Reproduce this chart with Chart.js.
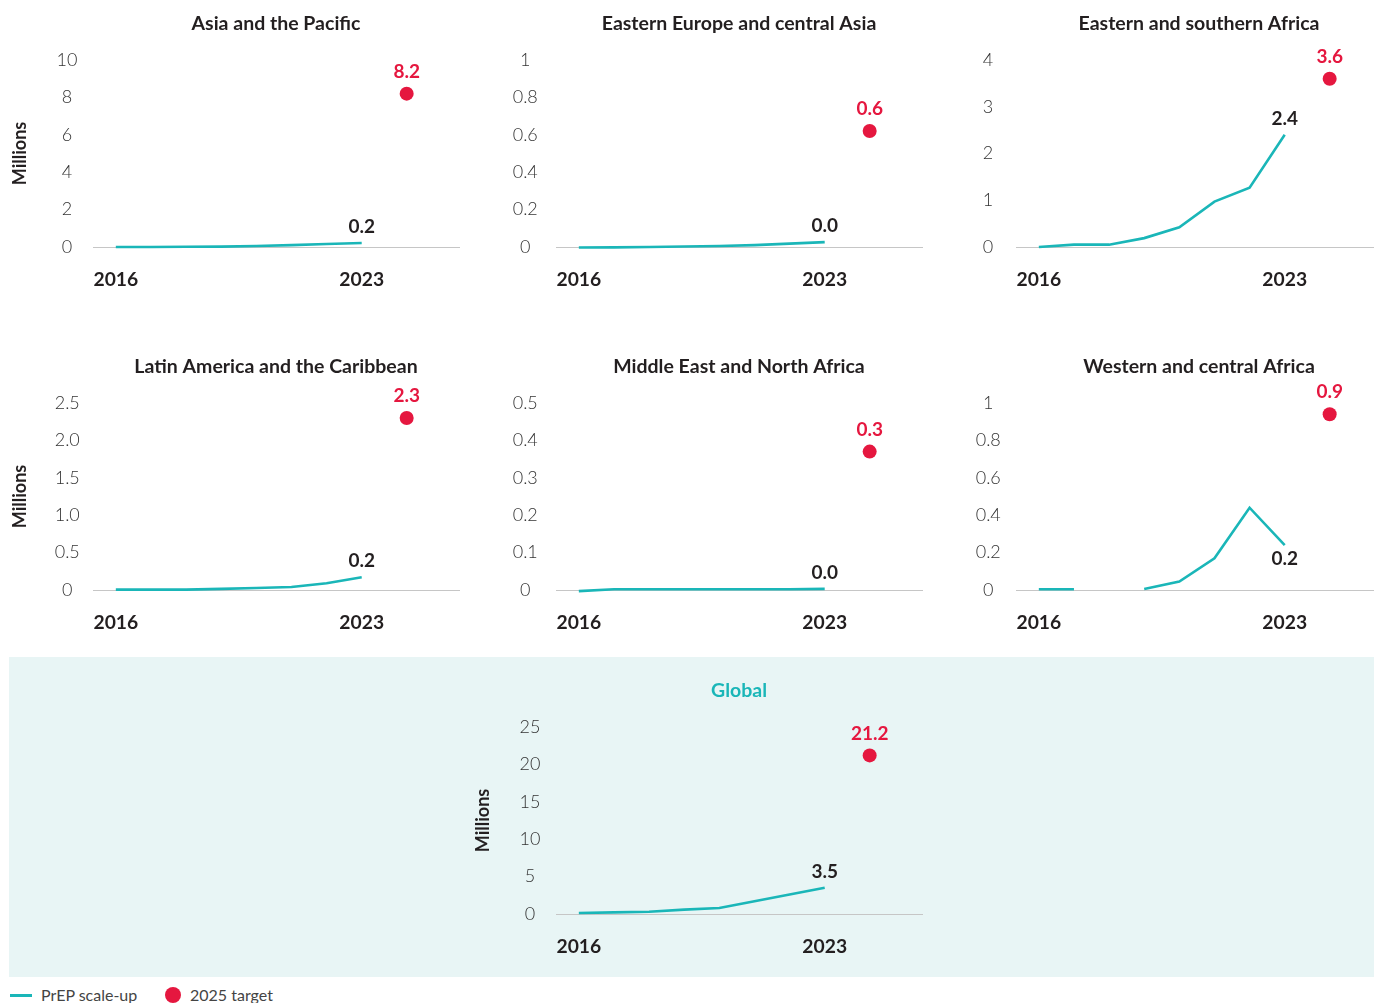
<!DOCTYPE html>
<html><head><meta charset="utf-8">
<script src="https://cdn.jsdelivr.net/npm/chart.js@4"></script>
<style>
html,body{margin:0;padding:0;width:1374px;height:1003px;overflow:hidden;background:#fff;font-family:Lato,"Open Sans",sans-serif;}
.panel{position:absolute;width:469px;height:300px;}
#globalBg{position:absolute;left:9px;top:657px;width:1365px;height:320px;background:#e8f5f5;}
#legend{position:absolute;left:10px;top:984px;height:22px;font-size:16px;color:#444;font-family:Lato,sans-serif;}
#legend span{position:absolute;white-space:nowrap;}
</style></head><body>
<div id="globalBg"></div>
<div class="panel" style="left:0px;top:0px"><canvas id="c0" width="469" height="300"></canvas></div>
<div class="panel" style="left:463px;top:0px"><canvas id="c1" width="469" height="300"></canvas></div>
<div class="panel" style="left:923px;top:0px"><canvas id="c2" width="469" height="300"></canvas></div>
<div class="panel" style="left:0px;top:343px"><canvas id="c3" width="469" height="300"></canvas></div>
<div class="panel" style="left:463px;top:343px"><canvas id="c4" width="469" height="300"></canvas></div>
<div class="panel" style="left:923px;top:343px"><canvas id="c5" width="469" height="300"></canvas></div>
<div class="panel" style="left:463px;top:667px"><canvas id="c6" width="469" height="300"></canvas></div>
<div id="legend">
  <span style="left:0;top:10px;width:22px;height:3px;background:#1ab6b8"></span>
  <span style="left:31px;top:1px">PrEP scale-up</span>
  <span style="left:155px;top:3px;width:16px;height:16px;border-radius:50%;background:#e5173f"></span>
  <span style="left:180px;top:1px">2025 target</span>
</div>
<script>
// ---- data ----
const years = [2016, 2017, 2018, 2019, 2020, 2021, 2022, 2023];
const regionNames = ['Asia and the Pacific', 'Eastern Europe and central Asia', 'Eastern and southern Africa',
  'Latin America and the Caribbean', 'Middle East and North Africa', 'Western and central Africa', 'Global'];
const asiaPacific = [0.0, 0.0, 0.01, 0.02, 0.05, 0.1, 0.16, 0.21];
const easternEuropeCentralAsia = [-0.003, -0.002, 0.0, 0.003, 0.005, 0.01, 0.018, 0.026];
const easternSouthernAfrica = [0.0, 0.05, 0.05, 0.19, 0.42, 0.97, 1.27, 2.4];
const latinAmericaCaribbean = [0.005, 0.005, 0.005, 0.015, 0.026, 0.04, 0.09, 0.17];
const middleEastNorthAfrica = [-0.003, 0.002, 0.002, 0.002, 0.002, 0.002, 0.002, 0.003];
const westernCentralAfrica = [0.004, 0.004, null, 0.005, 0.045, 0.17, 0.44, 0.24];
const globalTotal = [0.13, 0.22, 0.31, 0.58, 0.81, 1.7, 2.6, 3.5];
const targets2025 = [8.2, 0.62, 3.6, 2.3, 0.37, 0.94, 21.2];
const targetLabels = ['8.2', '0.6', '3.6', '2.3', '0.3', '0.9', '21.2'];
const tickValues = [
  [0, 2, 4, 6, 8, 10],
  [0, 0.2, 0.4, 0.6, 0.8, 1],
  [0, 1, 2, 3, 4],
  [0, 0.5, 1, 1.5, 2, 2.5],
  [0, 0.1, 0.2, 0.3, 0.4, 0.5],
  [0, 0.2, 0.4, 0.6, 0.8, 1],
  [0, 5, 10, 15, 20, 25]
];
const tickLabels = [
  ['0', '2', '4', '6', '8', '10'],
  ['0', '0.2', '0.4', '0.6', '0.8', '1'],
  ['0', '1', '2', '3', '4'],
  ['0', '0.5', '1.0', '1.5', '2.0', '2.5'],
  ['0', '0.1', '0.2', '0.3', '0.4', '0.5'],
  ['0', '0.2', '0.4', '0.6', '0.8', '1'],
  ['0', '5', '10', '15', '20', '25']
];
const xTickYears = [2016, 2023];
const seriesList = [asiaPacific, easternEuropeCentralAsia, easternSouthernAfrica,
  latinAmericaCaribbean, middleEastNorthAfrica, westernCentralAfrica, globalTotal];

// ---- styling / layout ----
const TEAL = '#1ab6b8', RED = '#e5173f', DARK = '#231f20';
const X_MIN = 2015.35, X_MAX = 2025.77, TARGET_X = 2024.28;
const panelStyle = [
  {millions: true, tickPad: 15.6, below: false, titleColor: DARK},
  {millions: false, tickPad: 18.2, below: false, titleColor: DARK},
  {millions: false, tickPad: 22.8, below: false, titleColor: DARK},
  {millions: true, tickPad: 13.2, below: false, titleColor: DARK},
  {millions: false, tickPad: 18.2, below: false, titleColor: DARK},
  {millions: false, tickPad: 15.2, below: true, titleColor: DARK},
  {millions: true, tickPad: 15.6, below: false, titleColor: TEAL}
];

const valueLabels = {
  id: 'valueLabels',
  afterDatasetsDraw(chart, args, opts) {
    const ctx = chart.ctx;
    const lineData = chart.data.datasets[0].data;
    const idx = lineData.length - 1;
    const pt = chart.getDatasetMeta(0).data[idx];
    const tp = chart.getDatasetMeta(1).data[0];
    ctx.save();
    ctx.font = 'bold 19px Lato';
    ctx.textAlign = 'center';
    ctx.textBaseline = 'middle';
    ctx.fillStyle = DARK;
    ctx.fillText(lineData[idx].y.toFixed(1), pt.x, pt.y + (opts.below ? 14 : -16));
    ctx.fillStyle = RED;
    ctx.fillText(opts.targetLabel, tp.x, tp.y - 22);
    ctx.restore();
  }
};

seriesList.forEach((series, i) => {
  const st = panelStyle[i];
  const tv = tickValues[i], tl = tickLabels[i];
  new Chart(document.getElementById('c' + i), {
    type: 'line',
    data: {
      datasets: [
        {
          data: years.map((y, k) => ({x: y, y: series[k]})),
          borderColor: TEAL, borderWidth: 2.6, pointRadius: 0, tension: 0,
          spanGaps: false, clip: false, borderCapStyle: 'butt'
        },
        {
          type: 'scatter',
          data: [{x: TARGET_X, y: targets2025[i]}],
          backgroundColor: RED, borderColor: RED, pointRadius: 7, pointBorderWidth: 0, clip: false
        }
      ]
    },
    options: {
      responsive: false,
      animation: false,
      events: [],
      layout: {padding: {left: 0, right: 10, top: 0, bottom: 0}},
      plugins: {
        legend: {display: false},
        tooltip: {enabled: false},
        title: {
          display: true, text: regionNames[i], fullSize: false,
          color: st.titleColor, font: {family: 'Lato', size: 19.5, weight: 'bold', lineHeight: 1.2},
          padding: {top: 12.5, bottom: 24.1}
        },
        valueLabels: {below: st.below, targetLabel: targetLabels[i]}
      },
      scales: {
        x: {
          type: 'linear', min: X_MIN, max: X_MAX,
          grid: {display: false, drawTicks: false},
          border: {display: true, color: '#c6c6c6', width: 1},
          afterBuildTicks: s => { s.ticks = xTickYears.map(v => ({value: v})); },
          afterFit: s => { s.height = 53; },
          ticks: {
            color: DARK, padding: 21, maxRotation: 0, autoSkip: false,
            font: {family: 'Lato', size: 19.3, weight: 'bold'},
            callback: v => String(v)
          }
        },
        y: {
          min: tv[0], max: tv[tv.length - 1],
          grid: {display: false, drawTicks: false},
          border: {display: false},
          afterBuildTicks: s => { s.ticks = tv.map(v => ({value: v})); },
          afterFit: s => { s.width = 93; },
          ticks: {
            color: '#333', padding: st.tickPad, crossAlign: 'center', autoSkip: false,
            font: {family: 'Lato', size: 18, weight: '300'},
            callback: (v, k) => tl[k]
          },
          title: {
            display: st.millions, text: 'Millions', color: DARK,
            font: {family: 'Lato', size: 18, weight: 'bold', lineHeight: 1.2},
            padding: {top: 9, bottom: 0}
          }
        }
      }
    },
    plugins: [valueLabels]
  });
});
</script>
</body></html>
